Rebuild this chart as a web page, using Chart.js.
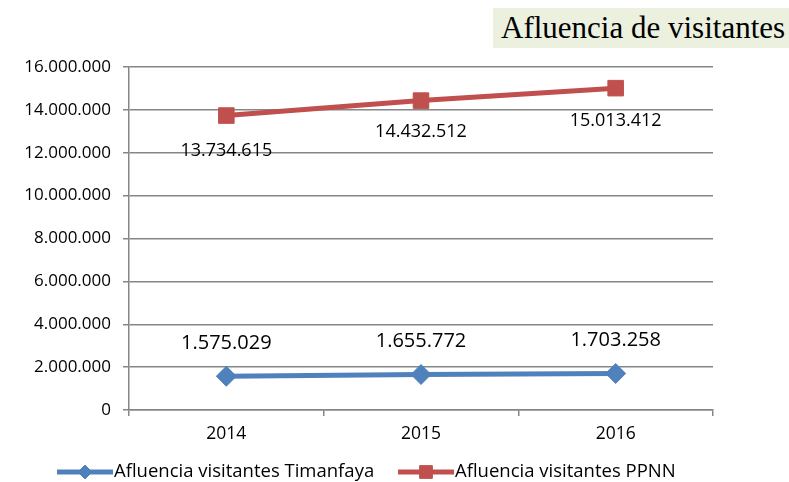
<!DOCTYPE html>
<html>
<head>
<meta charset="utf-8">
<script src="https://cdn.jsdelivr.net/npm/chart.js@4.4.0/dist/chart.umd.min.js"></script>
<style>
  body { margin: 0; background: #fff; }
  #wrap { position: relative; width: 789px; height: 482px; }
  #title {
    position: absolute; left: 493px; top: 8px; width: 296px; height: 40px;
    background: #ebf1de; font-family: "Liberation Serif", serif; font-size: 31px;
    line-height: 40px; padding-left: 8px; box-sizing: border-box; color: #000;
    white-space: nowrap;
  }
</style>
</head>
<body>
<div id="wrap">
  <canvas id="chart" width="789" height="482"></canvas>
  <div id="title">Afluencia de visitantes</div>
</div>
<script>
var years = ['2014', '2015', '2016'];
var timanfaya = [1575029, 1655772, 1703258];
var ppnn = [13734615, 14432512, 15013412];
var seriesNames = ['Afluencia visitantes Timanfaya', 'Afluencia visitantes PPNN'];

function puntos(v) {
    return String(v).replace(/\B(?=(\d{3})+(?!\d))/g, '.');
}

var valueLabels = {
    id: 'valueLabels',
    afterDatasetsDraw: function(chart) {
        var ctx = chart.ctx;
        ctx.save();
        ctx.fillStyle = '#000';
        ctx.textAlign = 'center';
        ctx.textBaseline = 'middle';
        // Timanfaya: above the points
        ctx.font = '20px "Open Sans"';
        chart.getDatasetMeta(0).data.forEach(function(p, i) {
            ctx.fillText(puntos(timanfaya[i]), p.x, p.y - 33);
        });
        // PPNN: below the points
        ctx.font = '18px "Open Sans"';
        var off = [35, 31, 33];
        chart.getDatasetMeta(1).data.forEach(function(p, i) {
            ctx.fillText(puntos(ppnn[i]), p.x, p.y + off[i]);
        });
        ctx.restore();
    }
};

var lineLegend = {
    id: 'lineLegend',
    afterDraw: function(chart) {
        var ctx = chart.ctx;
        var items = [
            { x: 57, color: '#4f81bd', style: 'rectRot', r: 7 },
            { x: 398, color: '#c0504d', style: 'rect', r: 9 }
        ];
        var y = 472;
        ctx.save();
        items.forEach(function(it, i) {
            ctx.strokeStyle = it.color;
            ctx.fillStyle = it.color;
            ctx.lineWidth = 5;
            ctx.beginPath();
            ctx.moveTo(it.x, y);
            ctx.lineTo(it.x + 56, y);
            ctx.stroke();
            ctx.lineWidth = 1;
            Chart.helpers.drawPoint(ctx, { pointStyle: it.style, radius: it.r, borderWidth: 1 }, it.x + 28, y);
            ctx.fillStyle = '#000';
            ctx.font = '18.5px "Open Sans"';
            ctx.textBaseline = 'middle';
            ctx.fillText(seriesNames[i], it.x + 57, y);
        });
        ctx.restore();
    }
};

new Chart(document.getElementById('chart').getContext('2d'), {
    type: 'line',
    data: {
        labels: years,
        datasets: [{
            label: seriesNames[0],
            data: timanfaya,
            borderColor: '#4f81bd',
            backgroundColor: '#4f81bd',
            borderWidth: 5,
            pointStyle: 'rectRot',
            pointRadius: 10,
            pointBorderWidth: 1,
            pointHoverRadius: 10
        }, {
            label: seriesNames[1],
            data: ppnn,
            borderColor: '#c0504d',
            backgroundColor: '#c0504d',
            borderWidth: 5,
            pointStyle: 'rect',
            pointRadius: 11,
            pointBorderWidth: 1,
            pointHoverRadius: 11
        }]
    },
    options: {
        responsive: false,
        animation: false,
        layout: { padding: { left: 0, right: 76, top: 67, bottom: 0 } },
        plugins: { legend: { display: false }, tooltip: { enabled: false } },
        scales: {
            x: {
                offset: true,
                grid: { display: true, drawOnChartArea: false, offset: true, color: '#868686', lineWidth: 1.5, tickLength: 6 },
                border: { color: '#868686', width: 1.5 },
                ticks: { color: '#000', font: { family: 'Open Sans', size: 17.5 }, padding: 8 },
                afterFit: function(s) { s.height = 72; }
            },
            y: {
                min: 0,
                max: 16000000,
                grid: { color: '#868686', lineWidth: 1.5, tickLength: 6 },
                border: { color: '#868686', width: 1.5 },
                ticks: {
                    stepSize: 2000000,
                    color: '#000',
                    font: { family: 'Open Sans', size: 17 },
                    padding: 12,
                    callback: function(v) { return puntos(v); }
                },
                afterFit: function(s) { s.width = 129; }
            }
        }
    },
    plugins: [valueLabels, lineLegend]
});
</script>
</body>
</html>
